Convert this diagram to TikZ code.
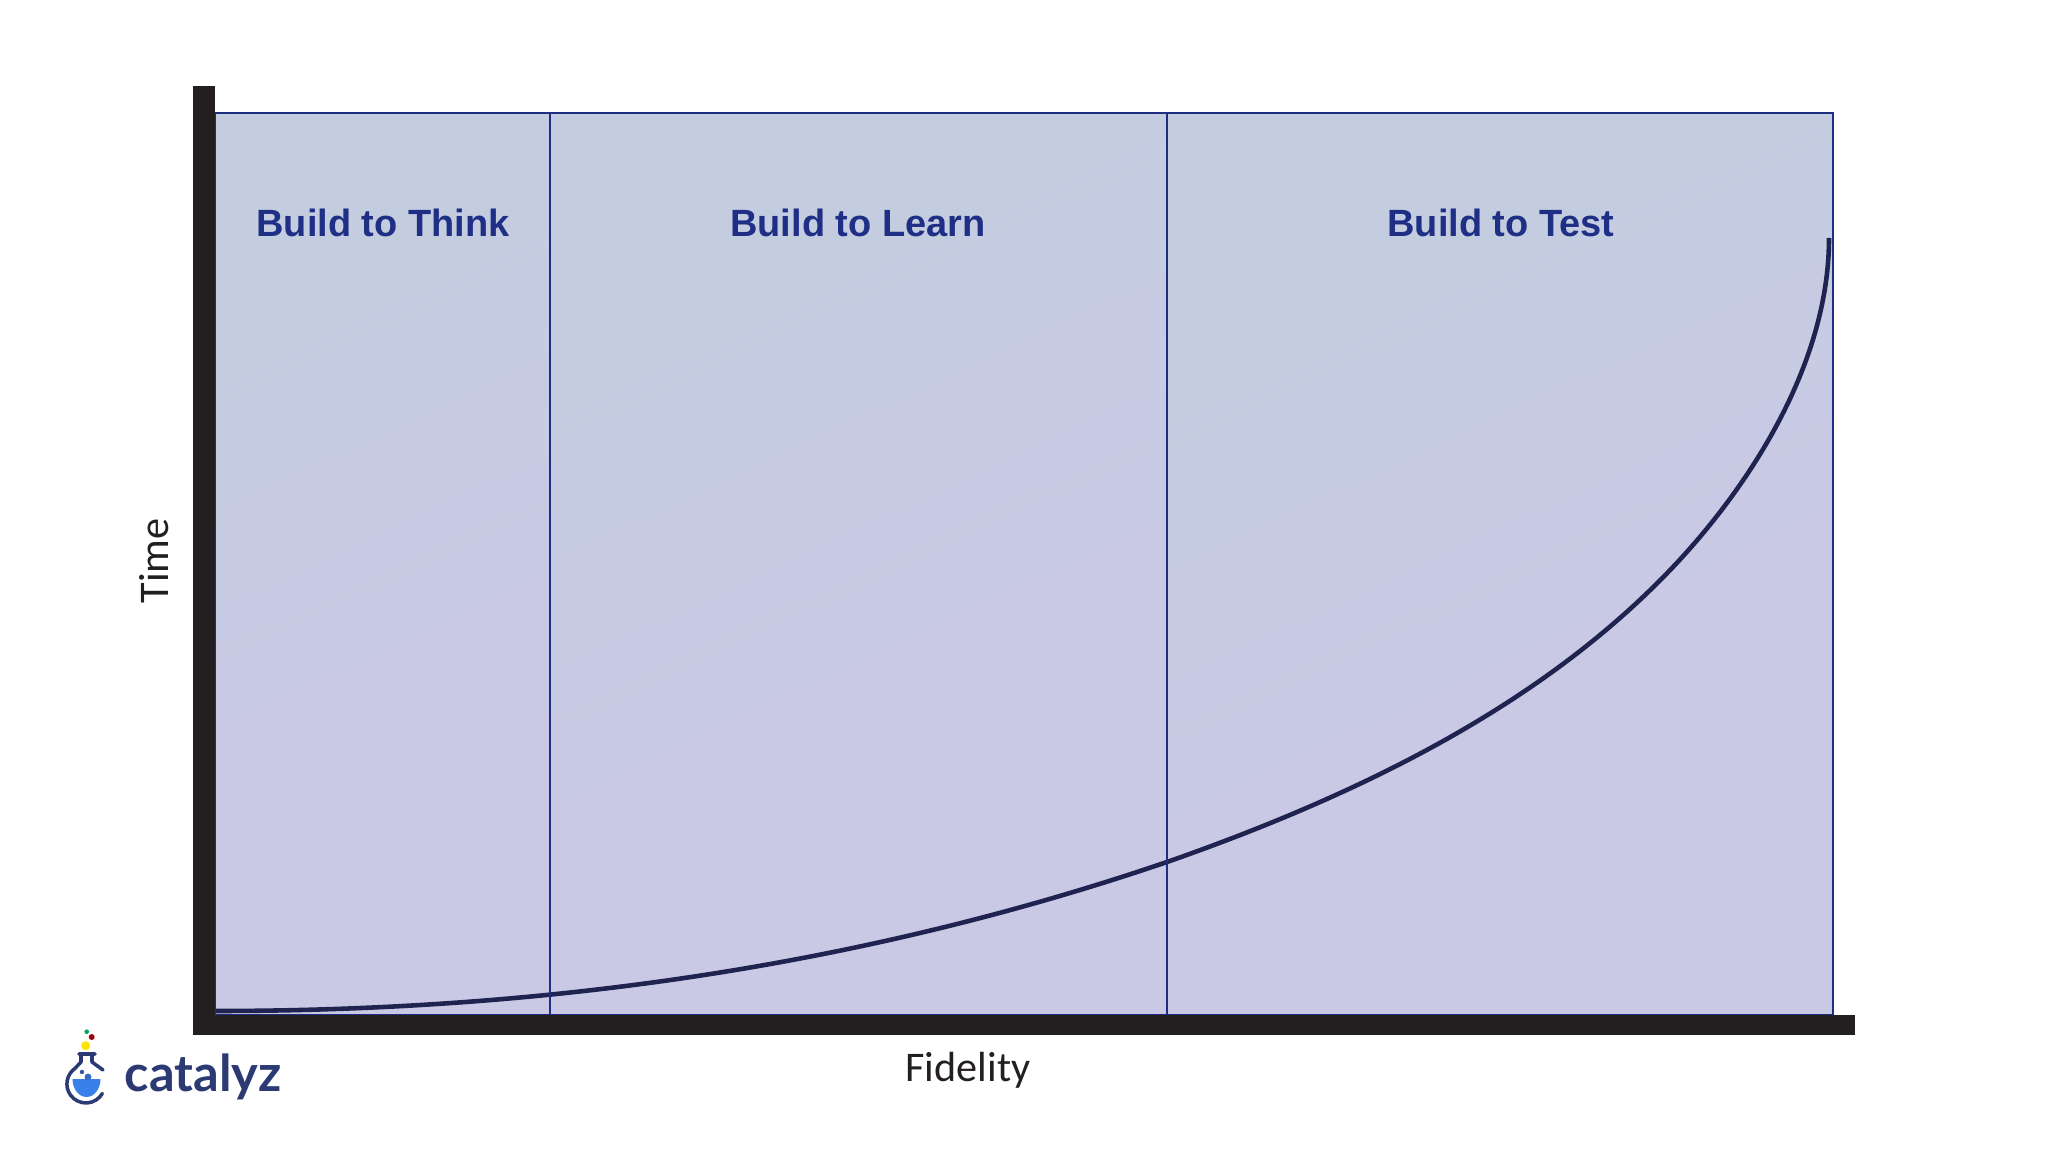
\documentclass[tikz,border=0pt]{standalone}
\usepackage{fontspec}
\setmainfont{Liberation Sans}
\newfontfamily\axisfont{Carlito}
\newfontfamily\logofont{Lato}
\definecolor{panelTop}{HTML}{C4CDE0}
\definecolor{panelLow}{HTML}{C9C9E6}
\definecolor{panelEdge}{HTML}{1F2F7F}
\definecolor{labelBlue}{HTML}{1F2F85}
\definecolor{axisBlack}{HTML}{231F20}
\definecolor{curveNavy}{HTML}{1F2350}
\definecolor{logoNavy}{HTML}{2B3A73}
\definecolor{logoBlue}{HTML}{3A80EA}
\pgfdeclareverticalshading{panelfade}{100bp}{color(0bp)=(panelLow); color(42bp)=(panelLow); color(68bp)=(panelTop); color(100bp)=(panelTop)}
\begin{document}
\begin{tikzpicture}
  [x=0.01cm,y=-0.01cm,
   every node/.style={inner sep=0pt},
   panel/.style={shading=panelfade,shading angle=25},
   divider/.style={draw=panelEdge,line width=0.65pt},
   axisbar/.style={fill=axisBlack},
   zonelabel/.style={color=labelBlue,font=\fontsize{10.8}{13}\selectfont\bfseries},
   axislabel/.style={color=axisBlack,font=\fontsize{12}{14}\selectfont\axisfont},
   curveline/.style={draw=curveNavy,line width=1.3pt}]
  \useasboundingbox (0,0) rectangle (2048,1152);

  \path[panel] (215,113) rectangle (550,1015);
  \path[panel] (550,113) rectangle (1167,1015);
  \path[panel] (1167,113) rectangle (1833,1015);

  \coordinate (curvestart) at (215,1011);
  \coordinate (curvelow) at (1167,862);
  \coordinate (curvehigh) at (1673,567);
  \coordinate (curveend) at (1829,238);
  \draw[curveline] (curvestart) .. controls (532,1011) and (850,970) .. (curvelow)
    .. controls (1367,792) and (1545,702) .. (curvehigh)
    .. controls (1745,491) and (1829,368) .. (curveend);

  \draw[divider] (215,113) rectangle (1833,1015);
  \draw[divider] (550,113) -- (550,1015);
  \draw[divider] (1167,113) -- (1167,1015);

  \fill[axisbar] (193,86) rectangle (215,1035);
  \fill[axisbar] (193,1015) rectangle (1855,1035);

  \node[zonelabel] (think) at (383,223) {Build to Think};
  \node[zonelabel] (learn) at (858,223) {Build to Learn};
  \node[zonelabel] (test) at (1501,223) {Build to Test};
  \node[axislabel,rotate=90] (time) at (154,561) {Time};
  \node[axislabel] (fidelity) at (968,1070) {Fidelity};

  % logo
  \fill[logoBlue] (72.5,1079) -- (100.5,1079) arc (0:180:14 and 18) -- cycle;
  \fill[logoBlue!70!logoNavy] (88,1077) circle (3.5);
  \fill[logoBlue!40!logoNavy] (82,1072) circle (2.2);
  \draw[logoNavy,line width=1pt,line cap=round,line join=round]
    (103,1070) -- (92,1062) -- (92,1054) -- (79,1054) (92,1054) -- (95,1054) (81,1054) -- (81,1062)
    -- (75,1068.4) arc (-125:-330:19);
  \fill[yellow!85!orange] (85.7,1045.7) circle (4.5);
  \fill[red!60!black!80!purple] (91.7,1037) circle (3);
  \fill[teal!70!green] (86.7,1031.7) circle (2.3);
  \node[anchor=base west,color=logoNavy,font=\fontsize{14.4}{16}\selectfont\logofont\bfseries] (catalyz) at (124,1091) {catalyz};
\end{tikzpicture}
\end{document}
